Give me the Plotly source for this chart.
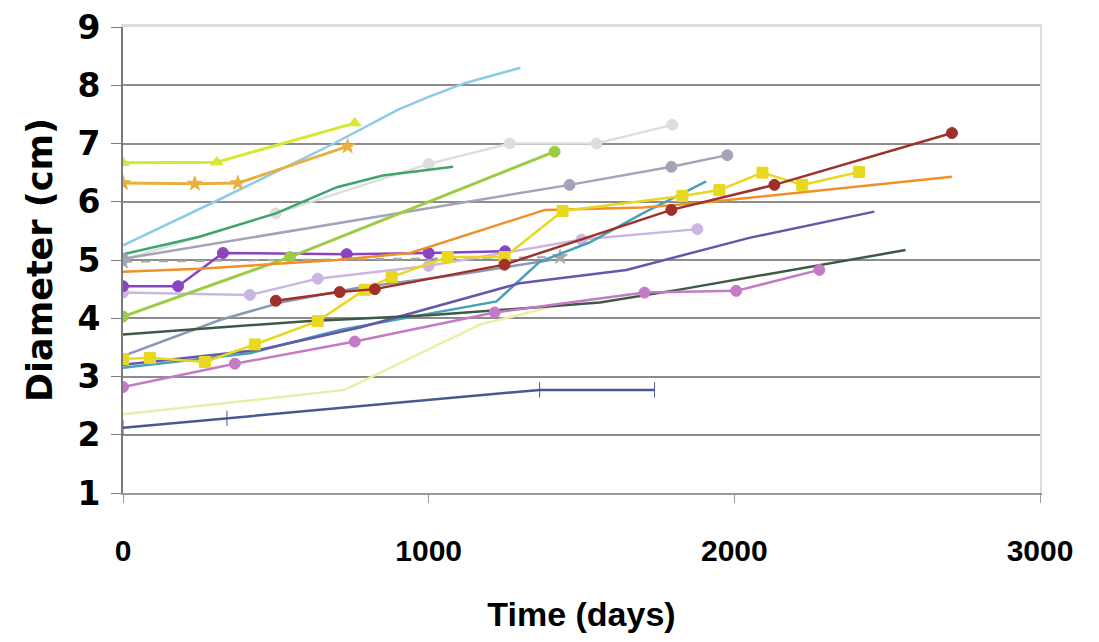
import plotly.graph_objects as go

# ---- data (days, diameter cm) ----
sky_x = [0, 300, 690, 900, 1000, 1120, 1300]
sky_y = [5.25, 6.0, 7.0, 7.58, 7.8, 8.04, 8.3]

lime_x = [0, 307, 758]
lime_y = [6.67, 6.68, 7.35]

gold_x = [0, 235, 376, 735]
gold_y = [6.32, 6.31, 6.32, 6.95]

green_x = [0, 250, 500, 700, 850, 1080]
green_y = [5.1, 5.4, 5.8, 6.25, 6.45, 6.6]

olive_x = [0, 546, 1412]
olive_y = [4.03, 5.05, 6.86]

grey_x = [0, 1461, 1794, 1977]
grey_y = [5.02, 6.29, 6.6, 6.8]

pale_x = [0, 500, 1000, 1265, 1549, 1797]
pale_y = [5.0, 5.8, 6.65, 7.0, 7.0, 7.32]

orange_x = [0, 250, 700, 940, 1380, 1700, 1886, 2712]
orange_y = [4.8, 4.85, 5.0, 5.12, 5.86, 5.9, 5.98, 6.43]

yellow_x = [0, 88, 268, 431, 637, 791, 879, 1062, 1248, 1438, 1830, 1951, 2092, 2222, 2408]
yellow_y = [3.3, 3.32, 3.25, 3.55, 3.95, 4.49, 4.71, 5.05, 5.05, 5.84, 6.1, 6.2, 6.5, 6.29, 6.51]

brown_x = [500, 709, 824, 1248, 1794, 2131, 2712]
brown_y = [4.3, 4.45, 4.5, 4.92, 5.86, 6.29, 7.18]

slate_x = [0, 317, 523, 765, 1100, 1400]
slate_y = [3.35, 3.97, 4.28, 4.52, 4.75, 5.0]

purple_x = [0, 448, 775, 905, 1297, 1647, 2049, 2458]
purple_y = [3.2, 3.46, 3.84, 4.03, 4.6, 4.83, 5.38, 5.83]

dkgreen_x = [0, 600, 1000, 1560, 1830, 2560]
dkgreen_y = [3.72, 3.95, 4.05, 4.27, 4.5, 5.17]

orchid_x = [0, 366, 758, 1216, 1706, 2006, 2278]
orchid_y = [2.82, 3.22, 3.6, 4.1, 4.44, 4.47, 4.83]

navy_x = [0, 340, 1363, 1739]
navy_y = [2.12, 2.28, 2.77, 2.77]

lemon_x = [0, 725, 1167, 1428]
lemon_y = [2.35, 2.77, 3.89, 4.23]

violet_x = [0, 180, 327, 732, 1000, 1250]
violet_y = [4.55, 4.55, 5.12, 5.1, 5.12, 5.15]

lavender_x = [0, 415, 637, 1000, 1500, 1879]
lavender_y = [4.44, 4.40, 4.68, 4.9, 5.35, 5.53]

teal_x = [0, 415, 709, 1222, 1363, 1526, 1700, 1908]
teal_y = [3.15, 3.4, 3.8, 4.29, 4.97, 5.3, 5.8, 6.35]

dash_x = [0, 1430]
dash_y = [4.97, 5.05]

x_ticks = [0, 1000, 2000, 3000]
y_ticks = [1, 2, 3, 4, 5, 6, 7, 8, 9]
grid_vals = [2, 3, 4, 5, 6, 7, 8]

series = [
    (pale_x, pale_y, "#dedede", "circle", 2.5, "solid"),
    (dash_x, dash_y, "#a8a8a8", "star", 2, "dash"),
    (lemon_x, lemon_y, "#e6f0a8", None, 2.5, "solid"),
    (sky_x, sky_y, "#8ccbe8", None, 2.5, "solid"),
    (green_x, green_y, "#3da56e", None, 2.5, "solid"),
    (grey_x, grey_y, "#a4a4b8", "circle", 2.5, "solid"),
    (lavender_x, lavender_y, "#cbb6e2", "circle", 2.5, "solid"),
    (slate_x, slate_y, "#8a98b8", None, 2.5, "solid"),
    (teal_x, teal_y, "#4aa0b8", None, 2.5, "solid"),
    (purple_x, purple_y, "#6458a8", None, 2.5, "solid"),
    (dkgreen_x, dkgreen_y, "#3e5a44", None, 2.5, "solid"),
    (orchid_x, orchid_y, "#c47ac4", "circle", 2.5, "solid"),
    (navy_x, navy_y, "#4a5890", "line-ns-open", 2.5, "solid"),
    (violet_x, violet_y, "#8a44c0", "circle", 2.5, "solid"),
    (olive_x, olive_y, "#9ccc44", "circle", 3, "solid"),
    (orange_x, orange_y, "#f0902a", None, 2.5, "solid"),
    (gold_x, gold_y, "#e8b040", "star", 3, "solid"),
    (lime_x, lime_y, "#d6e830", "triangle-up", 3, "solid"),
    (yellow_x, yellow_y, "#e8d820", "square", 2.5, "solid"),
    (brown_x, brown_y, "#a0302a", "circle", 2.5, "solid"),
]

fig = go.Figure()
for xs, ys, col, sym, w, dsh in series:
    if sym is None:
        fig.add_trace(go.Scatter(x=xs, y=ys, mode="lines",
                                 line=dict(color=col, width=w, dash=dsh),
                                 showlegend=False, hoverinfo="skip"))
    else:
        fig.add_trace(go.Scatter(x=xs, y=ys, mode="lines+markers",
                                 line=dict(color=col, width=w, dash=dsh),
                                 marker=dict(color=col, size=11, symbol=sym,
                                             line=dict(color=col, width=1)),
                                 showlegend=False, hoverinfo="skip"))

fig.update_layout(
    width=1099, height=642,
    margin=dict(l=115, r=67, t=19, b=157),
    paper_bgcolor="white", plot_bgcolor="white",
    xaxis=dict(
        range=[0, 3000], tickvals=x_ticks, ticktext=[str(v) for v in x_ticks],
        showgrid=False, zeroline=False, automargin="bottom",
        showline=True, linecolor="#9a9a9a", linewidth=2,
        ticks="outside", ticklen=8, tickcolor="#9a9a9a", tickwidth=1,
        ticklabelstandoff=22, ticklabeloverflow="allow",
        tickfont=dict(family="Liberation Sans", size=30, color="black", weight="bold"),
        title=dict(text="Time (days)", standoff=36,
                   font=dict(family="Liberation Sans", size=34, color="black", weight="bold")),
    ),
    yaxis=dict(
        range=[1, 9], tickvals=y_ticks,
        showgrid=False, zeroline=False, automargin="left",
        showline=True, linecolor="#7a7a7a", linewidth=2,
        ticks="outside", ticklen=10, tickcolor="#7a7a7a", tickwidth=1,
        ticklabelstandoff=4, ticklabeloverflow="allow",
        tickfont=dict(family="DejaVu Sans", size=33, color="black", weight="bold"),
        title=dict(text="Diameter (cm)", standoff=14,
                   font=dict(family="DejaVu Sans", size=35, color="black", weight="bold")),
    ),
    xaxis2=dict(overlaying="x", matches="x", side="top", showline=True,
                linecolor="#dcdcdc", linewidth=3, showticklabels=False,
                showgrid=False, zeroline=False, ticks=""),
    yaxis2=dict(overlaying="y", matches="y", side="right", showline=True,
                linecolor="#dcdcdc", linewidth=2, showticklabels=False,
                tickvals=grid_vals, showgrid=True, gridcolor="#8c8c8c", gridwidth=2,
                zeroline=False, ticks=""),
)
# invisible helper trace so the secondary axes are drawn
fig.add_trace(go.Scatter(x=[x_ticks[0]], y=[y_ticks[0]], xaxis="x2", yaxis="y2",
                         mode="markers", marker=dict(opacity=0), showlegend=False,
                         hoverinfo="skip"))

fig.write_html("out.html")
